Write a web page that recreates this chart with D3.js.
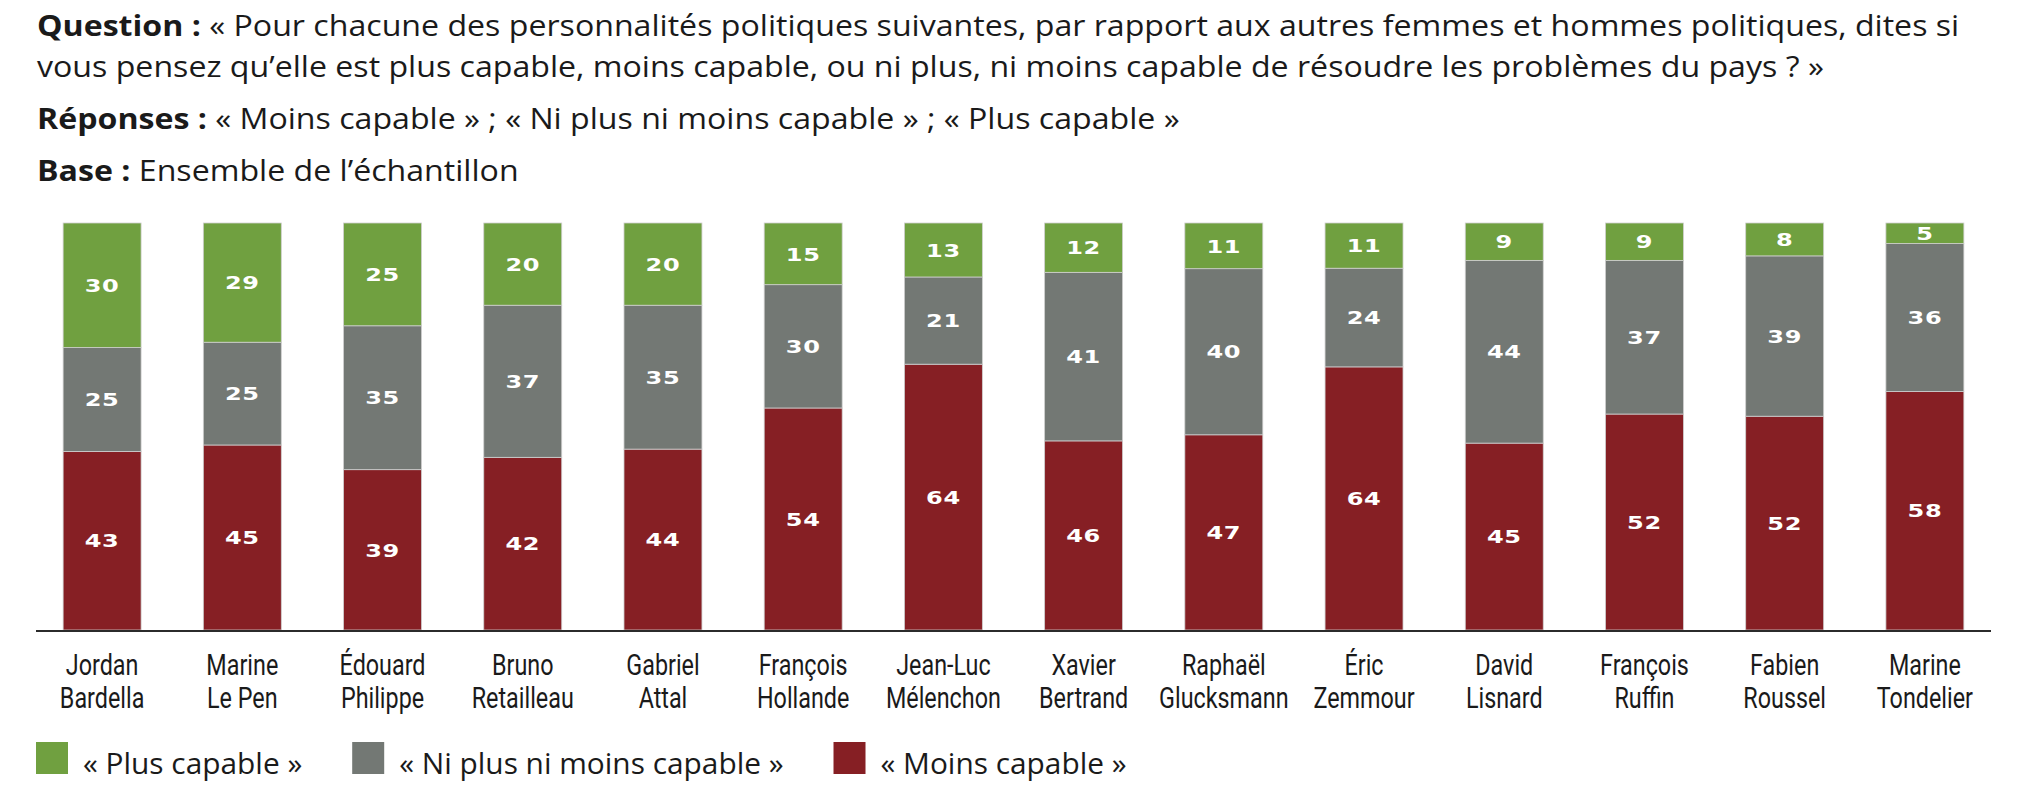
<!DOCTYPE html>
<html>
<head>
<meta charset="utf-8">
<script src="https://cdn.jsdelivr.net/npm/d3@7"></script>
<style>
  html, body { margin: 0; padding: 0; background: #fff; }
  svg { display: block; }
</style>
</head>
<body>
<svg id="chart" width="2038" height="804"></svg>
<script>
// categories (two lines per name)
var names = [
  ["Jordan", "Bardella"], ["Marine", "Le Pen"], ["Édouard", "Philippe"],
  ["Bruno", "Retailleau"], ["Gabriel", "Attal"], ["François", "Hollande"],
  ["Jean-Luc", "Mélenchon"], ["Xavier", "Bertrand"], ["Raphaël", "Glucksmann"],
  ["Éric", "Zemmour"], ["David", "Lisnard"], ["François", "Ruffin"],
  ["Fabien", "Roussel"], ["Marine", "Tondelier"]
];
// series values
var plusCapable  = [30, 29, 25, 20, 20, 15, 13, 12, 11, 11, 9, 9, 8, 5];
var niPlusNiMoins = [25, 25, 35, 37, 35, 30, 21, 41, 40, 24, 44, 37, 39, 36];
var moinsCapable = [43, 45, 39, 42, 44, 54, 64, 46, 47, 64, 45, 52, 52, 58];

var seriesKeys   = ["moins", "ni", "plus"];
var legendLabels = ["« Plus capable »", "« Ni plus ni moins capable »", "« Moins capable »"];
var legendKeys   = ["plus", "ni", "moins"];
var colors = { plus: "#70a040", ni: "#737874", moins: "#861f24" };

var svg = d3.select("#chart");

// rows for the stack
var rows = names.map(function(n, i) {
  return { name: n.join(" "), plus: plusCapable[i], ni: niPlusNiMoins[i], moins: moinsCapable[i] };
});

var stack = d3.stack().keys(seriesKeys).offset(d3.stackOffsetExpand);
var layers = stack(rows);

var x = d3.scaleBand()
  .domain(rows.map(function(d) { return d.name; }))
  .range([32, 1995])
  .paddingInner(0.444)
  .paddingOuter(0.222);

var y = d3.scaleLinear().domain([0, 1]).range([630, 223]);

// ---- title block
var title = svg.append("g").attr("fill", "#1a1a1a")
  .style("font-family", "'Open Sans', sans-serif");

var titleLines = [
  { y: 36, bold: "Question : ", text: "« Pour chacune des personnalités politiques suivantes, par rapport aux autres femmes et hommes politiques, dites si" },
  { y: 77, bold: "", text: "vous pensez qu’elle est plus capable, moins capable, ou ni plus, ni moins capable de résoudre les problèmes du pays ? »" },
  { y: 129, bold: "Réponses : ", text: "« Moins capable » ; « Ni plus ni moins capable » ; « Plus capable »" },
  { y: 181, bold: "Base : ", text: "Ensemble de l’échantillon" }
];

var titleTexts = title.selectAll("text").data(titleLines).enter().append("text")
  .style("font-size", "28.5px");
titleTexts.append("tspan").attr("font-weight", 700).text(function(d) { return d.bold; });
titleTexts.append("tspan").text(function(d) { return d.text; });

// the reference face is wider: stretch so the first line spans 37..1960
var w0 = titleTexts.node().getComputedTextLength();
var stretch = 1923 / w0;
titleTexts.attr("transform", function(d) {
  return "translate(37," + d.y + ") scale(" + stretch + ",1)";
});

// ---- bars
var g = svg.append("g");

g.selectAll(".layer")
  .data(layers)
  .enter().append("g")
  .attr("class", "layer")
  .attr("fill", function(d) { return colors[d.key]; })
  .selectAll("rect")
  .data(function(d) { return d; })
  .enter().append("rect")
  .attr("x", function(d) { return x(d.data.name); })
  .attr("y", function(d) { return y(d[1]); })
  .attr("width", x.bandwidth())
  .attr("height", function(d) { return y(d[0]) - y(d[1]); })
  .attr("stroke", "#cfcfcf")
  .attr("stroke-width", 0.8);

// values in the segments
layers.forEach(function(layer) {
  g.append("g")
    .selectAll("text")
    .data(layer)
    .enter().append("text")
    .attr("transform", function(d) {
      var cx = x(d.data.name) + x.bandwidth() / 2;
      var cy = (y(d[0]) + y(d[1])) / 2;
      return "translate(" + cx + "," + cy + ") scale(1.3,1)";
    })
    .attr("text-anchor", "middle")
    .attr("dy", "0.36em")
    .attr("fill", "#fff")
    .style("font-family", "'DejaVu Sans', sans-serif")
    .style("font-weight", "bold")
    .style("font-size", "18.5px")
    .style("letter-spacing", "0.5px")
    .text(function(d) { return d.data[layer.key]; });
});

// ---- x axis
var xAxis = svg.append("g")
  .attr("transform", "translate(0,631)")
  .call(d3.axisBottom(x).tickSize(0).tickPadding(0));

xAxis.select(".domain").remove();
xAxis.append("line")
  .attr("x1", 36).attr("x2", 1991)
  .attr("stroke", "#2b2b2b").attr("stroke-width", 2);

xAxis.selectAll(".tick text").remove();
var tickTexts = xAxis.selectAll(".tick").append("text")
  .attr("text-anchor", "middle")
  .attr("fill", "#1a1a1a")
  .style("font-family", "Roboto, sans-serif")
  .style("font-size", "29px");

tickTexts.each(function(d, i) {
  var t = d3.select(this);
  t.append("tspan").attr("x", 0).attr("y", 44).text(names[i][0]);
  t.append("tspan").attr("x", 0).attr("y", 77).text(names[i][1]);
});
// condensed look: "Mélenchon" is 115px wide in the reference
var melNode = tickTexts.nodes()[6].childNodes[1];
var squeeze = 115 / melNode.getComputedTextLength();
tickTexts.attr("transform", "scale(" + squeeze + ",1)");

// ---- legend
var legend = svg.append("g").attr("transform", "translate(0,742)");
var lx = 36;
legendKeys.forEach(function(k, i) {
  var item = legend.append("g").attr("transform", "translate(" + lx + ",0)");
  item.append("rect")
    .attr("width", 32).attr("height", 32)
    .attr("fill", colors[k]);
  var t = item.append("text")
    .attr("transform", "translate(47,32) scale(1.03,1)")
    .attr("fill", "#1a1a1a")
    .style("font-family", "'Open Sans', sans-serif")
    .style("font-size", "29px")
    .text(legendLabels[i]);
  lx += 47 + t.node().getComputedTextLength() * 1.03 + 50;
});
</script>
</body>
</html>
